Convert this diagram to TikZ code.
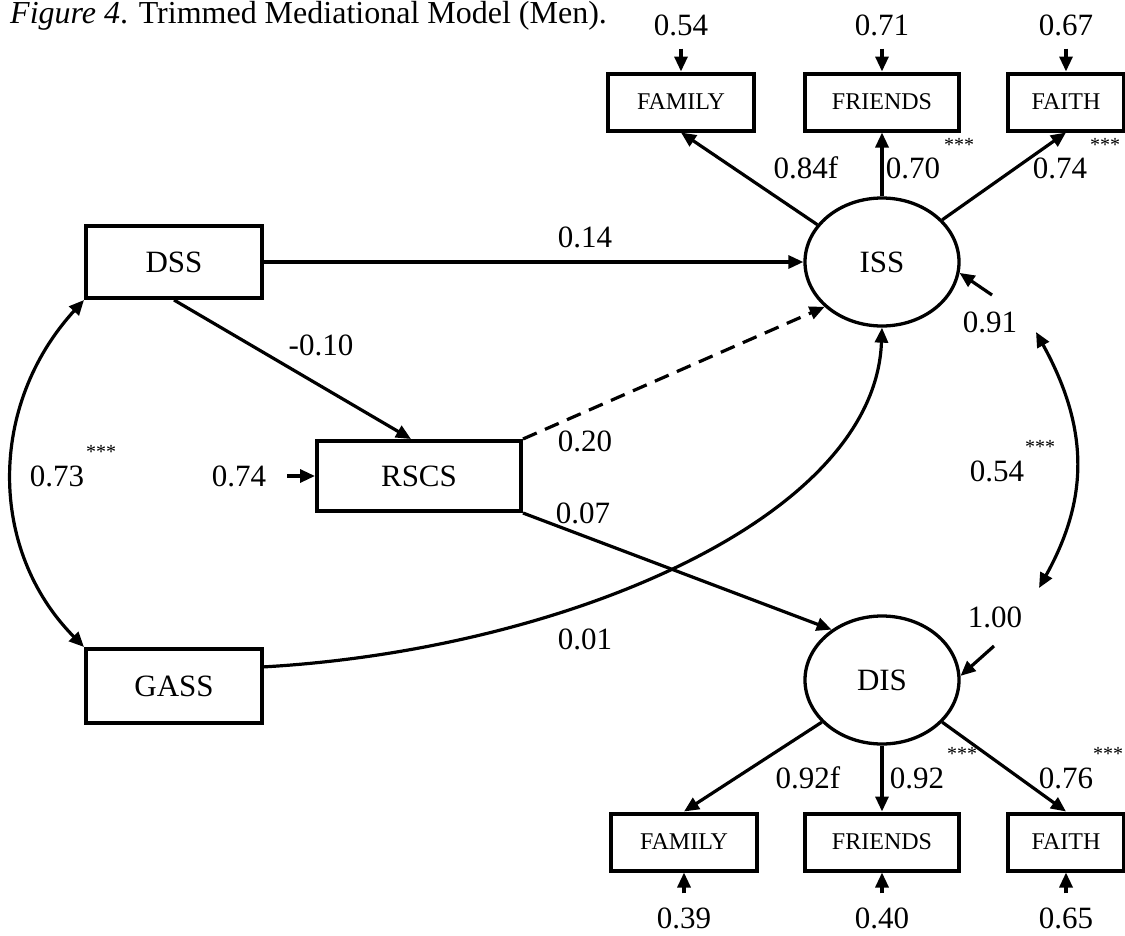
\documentclass[tikz,border=0pt]{standalone}
\usepackage{fontspec}
\setmainfont{Liberation Serif}
\usetikzlibrary{arrows.meta,shapes.geometric}
\begin{document}
\begin{tikzpicture}[x=1pt,y=-1pt,
  lbl/.style={font=\fontsize{31}{36}\selectfont, inner sep=0pt},
  stars/.style={font=\fontsize{20}{24}\selectfont, inner sep=0pt},
  bigbox/.style={draw, line width=4pt, minimum width=176pt, minimum height=72pt, font=\fontsize{31}{36}\selectfont, inner sep=0pt},
  ind/.style={draw, line width=4pt, minimum height=57pt, font=\fontsize{24}{28}\selectfont, inner sep=0pt},
  lat/.style={draw, ellipse, line width=3.3pt, minimum width=154pt, minimum height=128pt, font=\fontsize{31}{36}\selectfont, inner sep=0pt},
  arr/.style={line width=3.2pt, -{Triangle[length=15pt,width=13pt]}},
  darr/.style={line width=3.2pt, {Triangle[length=15pt,width=13pt]}-{Triangle[length=15pt,width=13pt]}},
  dsh/.style={dash pattern=on 15pt off 9pt}
]
\useasboundingbox (0,0) rectangle (1125,935);

% title
\node[anchor=base west, font=\fontsize{32}{37}\selectfont, inner sep=0pt] (title) at (10,23) {\textit{Figure 4}. Trimmed Mediational Model (Men).};

% latent variables
\node[lat] (iss) at (882,262) {ISS};
\node[lat] (dis) at (882,680) {DIS};

% observed variables
\node[bigbox] (dss) at (174,262) {DSS};
\node[bigbox, minimum height=74pt] (gass) at (174,686) {GASS};
\node[bigbox, minimum width=204pt, minimum height=70pt] (rscs) at (419,476) {RSCS};

% indicators top
\node[ind, minimum width=146pt] (tfam) at (681,102) {FAMILY};
\node[ind, minimum width=154pt] (tfri) at (882,102) {FRIENDS};
\node[ind, minimum width=116pt] (tfai) at (1066,102) {FAITH};
% indicators bottom
\node[ind, minimum width=146pt] (bfam) at (684,842) {FAMILY};
\node[ind, minimum width=154pt] (bfri) at (882,842) {FRIENDS};
\node[ind, minimum width=116pt] (bfai) at (1066,842) {FAITH};

% error labels
\node[lbl] (e1) at (681,25) {0.54};
\node[lbl] (e2) at (882,25) {0.71};
\node[lbl] (e3) at (1066,25) {0.67};
\node[lbl] (r1) at (684,918) {0.39};
\node[lbl] (r2) at (882,918) {0.40};
\node[lbl] (r3) at (1066,918) {0.65};
\draw[arr, shorten <=13pt] (e1.south) -- (tfam.north);
\draw[arr, shorten <=13pt] (e2.south) -- (tfri.north);
\draw[arr, shorten <=13pt] (e3.south) -- (tfai.north);
\draw[arr, shorten <=14pt] (r1.north) -- (bfam.south);
\draw[arr, shorten <=14pt] (r2.north) -- (bfri.south);
\draw[arr, shorten <=14pt] (r3.north) -- (bfai.south);

% loadings
\draw[arr] (iss.150) -- (tfam.south);
\draw[arr] (iss.north) -- (tfri.south);
\draw[arr] (iss.35) -- (tfai.south);
\draw[arr] (dis.215) -- (bfam.north);
\draw[arr] (dis.south) -- (bfri.north);
\draw[arr] (dis.325) -- (bfai.north);
\node[lbl] (l1) at (806,168) {0.84f};
\node[lbl] (l2) at (913,168) {0.70};
\node[stars] (s2) at (959,145) {***};
\node[lbl] (l3) at (1060,168) {0.74};
\node[stars] (s3) at (1105,145) {***};
\node[lbl] (l4) at (808,778) {0.92f};
\node[lbl] (l5) at (917,778) {0.92};
\node[stars] (s5) at (962,754) {***};
\node[lbl] (l6) at (1066,778) {0.76};
\node[stars] (s6) at (1108,754) {***};

% structural paths
\draw[arr] (dss) -- (iss);
\node[lbl] (p1) at (585,237) {0.14};
\draw[arr] (dss.south) -- ([xshift=-8pt]rscs.north);
\node[lbl] (p2) at (321,345) {-0.10};
\node[lbl] (r0) at (239,476) {0.74};
\draw[arr, shorten <=21pt] (r0.east) -- (rscs.west);
\draw[arr, dsh] (rscs.north east) -- (iss.218);
\node[lbl] (p3) at (585,441) {0.20};
\draw[arr] (rscs.south east) -- (dis.135);
\node[lbl] (p4) at (583,513) {0.07};
\draw[arr] (gass.12) .. controls (560,650) and (875,520) .. (iss.south);
\node[lbl] (p5) at (585,639) {0.01};

% correlations
\draw[darr] (dss.south west) .. controls (-12,405) and (-12,550) .. (gass.north west);
\node[lbl] (c1) at (57,476) {0.73};
\node[stars] (cs1) at (101,452) {***};
\coordinate (ct) at (1036,332);
\coordinate (cb) at (1039,588);
\draw[darr] (ct) .. controls (1090,430) and (1088,500) .. (cb);
\node[lbl] (c2) at (997,471) {0.54};
\node[stars] (cs2) at (1040,447) {***};

% disturbances
\coordinate (ri) at (992,295);
\draw[arr] (ri) -- (iss.-8);
\node[lbl] (d1) at (990,322) {0.91};
\coordinate (rd) at (994,646);
\draw[arr] (rd) -- (dis.3);
\node[lbl] (d2) at (995,617) {1.00};
\end{tikzpicture}
\end{document}
